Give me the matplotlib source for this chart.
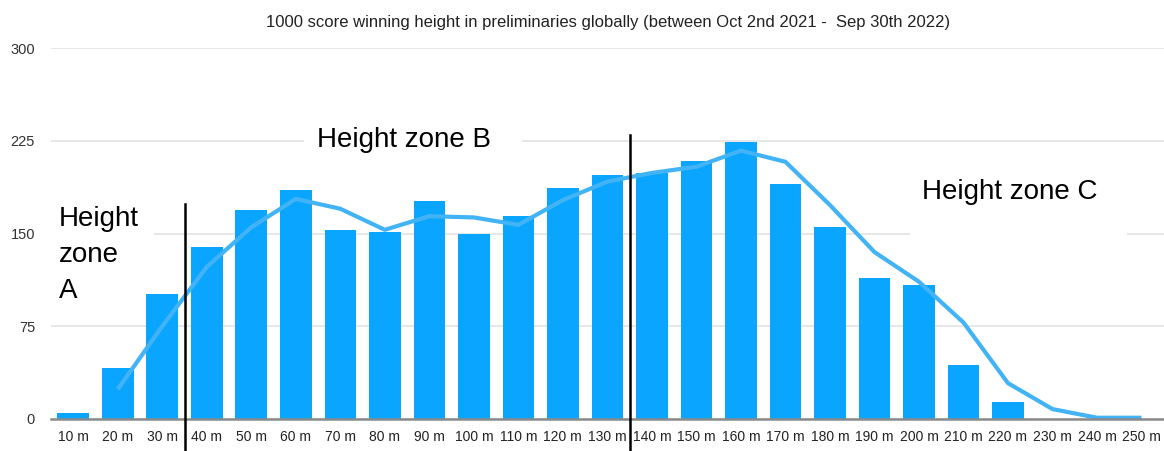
import matplotlib
matplotlib.use("Agg")
import matplotlib.pyplot as plt
from matplotlib.patches import Rectangle
import numpy as np

plt.rcParams['font.family'] = ['Liberation Sans', 'DejaVu Sans']

heights = ["10 m", "20 m", "30 m", "40 m", "50 m", "60 m", "70 m", "80 m", "90 m",
           "100 m", "110 m", "120 m", "130 m", "140 m", "150 m", "160 m", "170 m",
           "180 m", "190 m", "200 m", "210 m", "220 m", "230 m", "240 m", "250 m"]
counts = [5, 41, 101, 139, 169, 185, 153, 151, 176, 150, 164, 187, 197,
          199, 209, 224, 190, 155, 114, 108, 44, 14, 0, 0, 0]
# smoothed trend line (starts at 20 m)
trend = [None, 24, 75, 123, 155, 178, 170, 153, 164, 163, 157, 177, 192,
         199, 204, 217, 208, 173, 135, 111, 78, 29, 8, 1, 1]
yticks = [0, 75, 150, 225, 300]

x = np.arange(len(heights))
tx = [i for i, v in zip(x, trend) if v is not None]
ty = [v for v in trend if v is not None]

fig = plt.figure(figsize=(11.64, 4.51), dpi=100)
ax = fig.add_axes([0.0438, 0.071, 0.956, 0.8225])

ax.bar(x, counts, width=0.71, color="#0aa5ff", zorder=2)
ax.plot(tx, ty, color="#42b3f4", lw=3, zorder=3, solid_capstyle="butt")

ax.set_xlim(-0.5, len(heights) - 0.5)
ax.set_ylim(0, 300)
ax.set_yticks(yticks)
ax.set_yticklabels([str(v) for v in yticks], fontsize=10.5, color="#333333")
ax.set_xticks(x)
ax.set_xticklabels(heights, fontsize=10, color="#222222")
ax.tick_params(axis="both", length=0)
ax.tick_params(axis="y", pad=11.5)
ax.tick_params(axis="x", pad=8)
ax.grid(axis="y", color="#e3e3e3", lw=1.2, zorder=0)
ax.set_axisbelow(True)
for s in ["top", "right", "left"]:
    ax.spines[s].set_visible(False)
ax.spines["bottom"].set_color("#8a8a8a")
ax.spines["bottom"].set_linewidth(1.8)
ax.spines["bottom"].set_zorder(4)

# zone dividers
ax.plot([2.5, 2.5], [-26, 174], color="black", lw=1.8, clip_on=False, zorder=5)
ax.plot([12.5, 12.5], [-26, 230], color="black", lw=1.8, clip_on=False, zorder=5)

# white text boxes that hide the gridlines behind the zone labels
for x0, x1, y0, y1 in [(-0.5, 1.82, 120, 185), (5.18, 10.09, 212, 240),
                       (18.79, 23.68, 140, 212)]:
    ax.add_patch(Rectangle((x0, y0), x1 - x0, y1 - y0, facecolor="white",
                           edgecolor="none", zorder=1))

ax.text(-0.33, 133, "Height\nzone\nA", fontsize=20, linespacing=1.5,
        va="center", ha="left", zorder=6)
ax.text(7.42, 226, "Height zone B", fontsize=20, va="center", ha="center",
        zorder=6)
ax.text(21.03, 183.5, "Height zone C", fontsize=20, va="center", ha="center",
        zorder=6)

fig.text(0.5225, 0.951, "1000 score winning height in preliminaries globally "
         "(between Oct 2nd 2021 -  Sep 30th 2022)", fontsize=12, ha="center",
         va="center", color="#222222")

fig.savefig("out.png", dpi=100)
